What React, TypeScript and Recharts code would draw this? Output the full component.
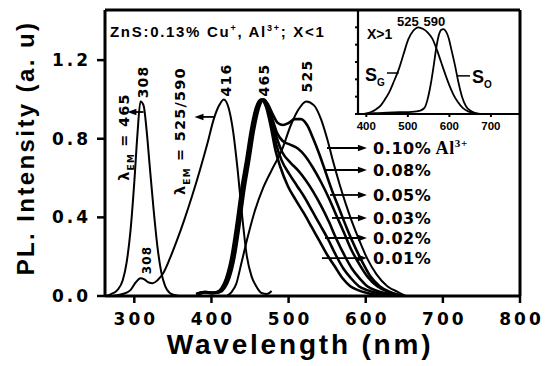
import React from 'react';
import { LineChart, Line, XAxis, YAxis, ReferenceLine, ReferenceDot } from 'recharts';

// ---------- main panel data (wavelength in nm, PL intensity a.u.) ----------
// excitation spectrum, λEM = 465 nm
const excEm465Wl = [262, 270, 278, 285, 290, 295, 300, 304, 308, 312, 316, 320, 325, 330, 335, 340, 346, 352, 360, 370];
const excEm465Int = [0.0, 0.01, 0.03, 0.08, 0.17, 0.33, 0.58, 0.82, 0.99, 0.97, 0.84, 0.66, 0.44, 0.25, 0.12, 0.05, 0.015, 0.005, 0.0, 0.0];
// excitation spectrum, λEM = 525/590 nm
const excEm525Wl = [272, 285, 295, 302, 308, 313, 318, 324, 330, 338, 346, 355, 365, 375, 385, 395, 403, 410, 416, 422, 428, 434, 440, 446, 452, 458, 465, 472, 478];
const excEm525Int = [0.0, 0.01, 0.03, 0.07, 0.09, 0.085, 0.07, 0.065, 0.08, 0.12, 0.19, 0.28, 0.39, 0.51, 0.64, 0.78, 0.9, 0.97, 1.0, 0.96, 0.84, 0.64, 0.4, 0.2, 0.1, 0.05, 0.015, 0.01, 0.025];
// emission spectra for Al3+ concentrations
const em001Wl = [380, 390, 399, 407, 413, 419, 426, 432, 439, 445, 451, 457, 464, 471, 477, 483, 489, 499, 509, 520, 530, 540, 550, 560, 570, 580, 590, 602, 615, 628];
const em001Int = [0.01, 0.02, 0.015, 0.02, 0.04, 0.09, 0.2, 0.35, 0.55, 0.69, 0.84, 0.95, 1.0, 0.96, 0.86, 0.74, 0.66, 0.56, 0.49, 0.42, 0.35, 0.28, 0.21, 0.15, 0.09, 0.05, 0.03, 0.015, 0.005, 0.0];
const em002Wl = [381, 391, 400, 408, 414, 420, 427, 433, 440, 446, 452, 458, 465, 472, 478, 484, 491, 501, 511, 521, 531, 541, 551, 561, 571, 581, 591, 602, 615, 630, 645];
const em002Int = [0.01, 0.02, 0.015, 0.02, 0.04, 0.09, 0.2, 0.35, 0.55, 0.69, 0.84, 0.95, 1.0, 0.96, 0.87, 0.77, 0.69, 0.62, 0.56, 0.5, 0.43, 0.36, 0.29, 0.21, 0.14, 0.09, 0.05, 0.03, 0.015, 0.005, 0.0];
const em003Wl = [382, 392, 401, 409, 415, 421, 428, 434, 441, 447, 453, 459, 466, 473, 479, 485, 492, 502, 512, 522, 532, 542, 552, 562, 572, 582, 592, 602, 615, 630, 645];
const em003Int = [0.01, 0.02, 0.015, 0.02, 0.04, 0.09, 0.2, 0.35, 0.55, 0.69, 0.84, 0.95, 1.0, 0.97, 0.89, 0.8, 0.73, 0.68, 0.64, 0.59, 0.53, 0.46, 0.38, 0.29, 0.21, 0.14, 0.09, 0.05, 0.025, 0.01, 0.0];
const em005Wl = [383, 393, 402, 410, 416, 422, 429, 435, 442, 448, 454, 460, 467, 473, 479, 485, 492, 502, 512, 522, 532, 542, 552, 562, 572, 582, 592, 602, 615, 630, 648];
const em005Int = [0.01, 0.02, 0.015, 0.02, 0.04, 0.09, 0.2, 0.35, 0.55, 0.69, 0.84, 0.95, 1.0, 0.97, 0.9, 0.83, 0.79, 0.77, 0.75, 0.71, 0.65, 0.58, 0.5, 0.41, 0.32, 0.23, 0.16, 0.1, 0.05, 0.02, 0.0];
const em008Wl = [384, 394, 403, 411, 417, 423, 430, 436, 443, 449, 455, 461, 468, 474, 480, 486, 493, 500, 508, 516, 524, 532, 540, 548, 556, 566, 576, 586, 596, 606, 618, 632, 650];
const em008Int = [0.01, 0.02, 0.015, 0.02, 0.04, 0.09, 0.2, 0.35, 0.55, 0.69, 0.84, 0.95, 1.0, 0.97, 0.92, 0.88, 0.87, 0.88, 0.9, 0.9, 0.87, 0.8, 0.72, 0.63, 0.54, 0.44, 0.34, 0.25, 0.17, 0.1, 0.05, 0.02, 0.0];
const em010Wl = [420, 426, 432, 439, 447, 456, 467, 478, 491, 503, 513, 523, 533, 542, 550, 558, 566, 574, 582, 592, 602, 614, 628, 642, 652];
const em010Int = [0.0, 0.02, 0.06, 0.17, 0.3, 0.43, 0.55, 0.64, 0.74, 0.87, 0.95, 0.99, 0.97, 0.9, 0.8, 0.68, 0.57, 0.47, 0.38, 0.28, 0.19, 0.11, 0.05, 0.02, 0.0];

// ---------- inset data (X > 1) ----------
const sgWl = [395, 410, 422, 435, 445, 455, 465, 477, 489, 501, 513, 525, 537, 548, 559, 570, 580, 590, 600, 610, 620, 632, 645, 660, 675];
const sgInt = [0.0, 0.02, 0.05, 0.1, 0.17, 0.25, 0.36, 0.5, 0.68, 0.86, 0.96, 1.0, 0.98, 0.94, 0.87, 0.74, 0.6, 0.46, 0.33, 0.22, 0.14, 0.07, 0.03, 0.01, 0.0];
const soWl = [395, 420, 450, 480, 510, 530, 540, 547, 555, 562, 568, 574, 580, 586, 592, 598, 605, 614, 622, 631, 640, 650, 660, 672];
const soInt = [0.0, 0.01, 0.015, 0.02, 0.025, 0.04, 0.07, 0.16, 0.34, 0.55, 0.75, 0.9, 0.97, 0.98, 0.95, 0.88, 0.74, 0.55, 0.36, 0.19, 0.09, 0.04, 0.015, 0.0];

// ---------- ticks & labels ----------
const xTicks = [300, 400, 500, 600, 700, 800];
const yTicks = [0, 0.4, 0.8, 1.2];
const insetXTicks = [400, 500, 600, 700];
const insetYTicks = [0, 0.2, 0.4, 0.6, 0.8, 1.0, 1.2];
const concLabels = ['0.10%', '0.08%', '0.05%', '0.03%', '0.02%', '0.01%'];
const peakLabels = ['308', '416', '465', '525'];
const insetPeakLabels = ['525', '590'];

const pts = (wl: number[], v: number[]) => wl.map((x, i) => ({ x, y: v[i] }));

const SANS = "'Liberation Sans', Arial, sans-serif";
const DJV = "'DejaVu Sans', sans-serif";
const SERIF = "'Liberation Serif', 'Times New Roman', serif";

const MainXTick = (p: any) => (
  <text x={p.x + 1.5} y={p.y} dy="0.74em" textAnchor="middle"
    style={{ fontFamily: DJV, fontWeight: 'bold', fontSize: 17, letterSpacing: 3, fill: '#000' }}>
    {p.payload.value}
  </text>
);
const MainYTick = (p: any) => (
  <text x={p.x} y={p.y} dy="0.36em" textAnchor="end"
    style={{ fontFamily: DJV, fontWeight: 'bold', fontSize: 17, letterSpacing: 3, fill: '#000' }}>
    {Number(p.payload.value).toFixed(1)}
  </text>
);
const InsetXTick = (p: any) => (
  <text x={p.x} y={p.y} dy="0.74em" textAnchor="middle"
    style={{ fontFamily: SANS, fontWeight: 'bold', fontSize: 11.5, fill: '#000' }}>
    {p.payload.value}
  </text>
);

const XTitle = () => (
  <text x={300} y={354} textAnchor="middle"
    style={{ fontFamily: SANS, fontWeight: 'bold', fontSize: 28, letterSpacing: 2.8, fill: '#000' }}>
    Wavelength (nm)
  </text>
);
const YTitle = () => (
  <text x={34} y={148} textAnchor="middle" transform="rotate(-90 34 148)"
    style={{ fontFamily: SANS, fontWeight: 'bold', fontSize: 24, letterSpacing: 2.4, fill: '#000' }}>
    PL. Intensity (a. u)
  </text>
);

const rotText = (content: React.ReactNode, fs: number) => (p: any) => (
  <text x={p.cx} y={p.cy} dy="0.35em" textAnchor="middle" transform={`rotate(-90 ${p.cx} ${p.cy})`}
    style={{ fontFamily: DJV, fontWeight: 'bold', fontSize: fs, letterSpacing: 1.2, fill: '#000' }}>
    {content}
  </text>
);

const lambdaLabel = (value: string) => (
  <>
    <tspan>λ</tspan>
    <tspan dy={5} fontSize={9}>EM</tspan>
    <tspan dy={-5}>{' = ' + value}</tspan>
  </>
);

const arrowShape = (p: any) => {
  const { x1, y1, x2, y2 } = p;
  const d = x2 >= x1 ? 1 : -1;
  return (
    <g>
      <line x1={x1} y1={y1} x2={x2 - d * 6} y2={y2} stroke="#000" strokeWidth={1.8} />
      <polygon points={`${x2},${y2} ${x2 - d * 9},${y2 - 3.2} ${x2 - d * 9},${y2 + 3.2}`} fill="#000" />
    </g>
  );
};
const plainLine = (w: number) => (p: any) => (
  <line x1={p.x1} y1={p.y1} x2={p.x2} y2={p.y2} stroke="#000" strokeWidth={w} />
);

const concText = (label: string, withIon: boolean) => (p: any) => (
  <text x={p.cx} y={p.cy} dy="0.36em" textAnchor="start"
    style={{ fontFamily: DJV, fontWeight: 'bold', fontSize: 16, letterSpacing: 0.6, fill: '#000' }}>
    {label}
    {withIon ? (
      <>
        <tspan style={{ fontFamily: SERIF, fontSize: 18 }}>{' Al'}</tspan>
        <tspan dy={-7} style={{ fontFamily: SERIF, fontSize: 11 }}>3+</tspan>
      </>
    ) : null}
  </text>
);

const titleText = (p: any) => (
  <text x={p.cx} y={p.cy} textAnchor="start"
    style={{ fontFamily: SANS, fontWeight: 'bold', fontSize: 15, letterSpacing: 1.7, fill: '#000' }}>
    <tspan>ZnS:0.13% Cu</tspan>
    <tspan dy={-6} fontSize={9}>+</tspan>
    <tspan dy={6}>, Al</tspan>
    <tspan dy={-6} fontSize={9}>3+</tspan>
    <tspan dy={6}>{'; X<1'}</tspan>
  </text>
);

const insetText = (content: React.ReactNode, fs: number, anchor: 'start' | 'middle') => (p: any) => (
  <text x={p.cx} y={p.cy} dy="0.36em" textAnchor={anchor}
    style={{ fontFamily: SANS, fontWeight: 'bold', fontSize: fs, fill: '#000' }}>
    {content}
  </text>
);

const seriesMain = [
  { id: 'exc465', d: pts(excEm465Wl, excEm465Int), w: 2 },
  { id: 'exc525', d: pts(excEm525Wl, excEm525Int), w: 2 },
  { id: 'em001', d: pts(em001Wl, em001Int), w: 2.6 },
  { id: 'em002', d: pts(em002Wl, em002Int), w: 2.6 },
  { id: 'em003', d: pts(em003Wl, em003Int), w: 2.6 },
  { id: 'em005', d: pts(em005Wl, em005Int), w: 2.6 },
  { id: 'em008', d: pts(em008Wl, em008Int), w: 2.6 },
  { id: 'em010', d: pts(em010Wl, em010Int), w: 2 },
];

const arrowYs = [0.753, 0.641, 0.514, 0.397, 0.295, 0.193];
const arrowStarts = [549.8, 547.2, 553.7, 556.3, 547.2, 543.3];

export default function App() {
  return (
    <div style={{ position: 'absolute', left: 0, top: 0, width: 546, height: 366, background: '#fff' }}>
      <LineChart width={546} height={366} margin={{ top: 10, right: 26, bottom: 0, left: 0 }}>
        <XAxis type="number" dataKey="x" domain={[262, 800]} ticks={xTicks} allowDataOverflow
          height={70} tickSize={7} tickMargin={9} tick={<MainXTick />}
          axisLine={{ stroke: '#000', strokeWidth: 3 }} tickLine={{ stroke: '#000', strokeWidth: 2.5 }}
          label={<XTitle />} />
        <YAxis type="number" dataKey="y" domain={[0, 1.455]} ticks={yTicks} allowDataOverflow
          width={105} tickSize={8} tickMargin={6} tick={<MainYTick />}
          axisLine={{ stroke: '#000', strokeWidth: 3 }} tickLine={{ stroke: '#000', strokeWidth: 2.5 }}
          label={<YTitle />} />
        <ReferenceLine y={1.455} stroke="#000" strokeWidth={3} />
        <ReferenceLine x={800} stroke="#000" strokeWidth={3} />
        {seriesMain.map((s) => (
          <Line key={s.id} data={s.d} dataKey="y" type="monotone" stroke="#000" strokeWidth={s.w}
            dot={false} activeDot={false} isAnimationActive={false} />
        ))}
        {/* annotations */}
        <ReferenceDot x={268.5} y={1.318} r={0} shape={titleText} />
        <ReferenceDot x={311.3} y={1.089} r={0} shape={rotText(peakLabels[0], 14)} />
        <ReferenceDot x={418.9} y={1.099} r={0} shape={rotText(peakLabels[1], 14)} />
        <ReferenceDot x={468.1} y={1.099} r={0} shape={rotText(peakLabels[2], 14)} />
        <ReferenceDot x={523.9} y={1.119} r={0} shape={rotText(peakLabels[3], 14)} />
        <ReferenceDot x={316.5} y={0.183} r={0} shape={rotText(peakLabels[0], 12)} />
        <ReferenceDot x={286.6} y={0.809} r={0} shape={rotText(lambdaLabel('465'), 14.5)} />
        <ReferenceDot x={359.2} y={0.839} r={0} shape={rotText(lambdaLabel('525/590'), 14.5)} />
        <ReferenceLine segment={[{ x: 312, y: 0.936 }, { x: 291, y: 0.936 }]} shape={arrowShape} />
        <ReferenceLine segment={[{ x: 404, y: 0.911 }, { x: 378, y: 0.911 }]} shape={arrowShape} />
        {concLabels.map((c, i) => (
          <ReferenceLine key={'a' + c} segment={[{ x: arrowStarts[i], y: arrowYs[i] }, { x: 601.6, y: arrowYs[i] }]}
            shape={arrowShape} />
        ))}
        {concLabels.map((c, i) => (
          <ReferenceDot key={'t' + c} x={609.4} y={arrowYs[i]} r={0} shape={concText(c, i === 0)} />
        ))}
      </LineChart>

      <div style={{ position: 'absolute', left: 352, top: 10 }}>
        <LineChart width={168} height={124} margin={{ top: 0, right: 0, bottom: 0, left: 0 }}>
          <XAxis type="number" dataKey="x" domain={[380, 770]} ticks={insetXTicks} allowDataOverflow
            height={20} tickSize={3} tickMargin={4} tick={<InsetXTick />}
            axisLine={{ stroke: '#000', strokeWidth: 2.2 }} tickLine={{ stroke: '#000', strokeWidth: 2 }} />
          <YAxis type="number" dataKey="y" domain={[0, 1.2]} ticks={insetYTicks} allowDataOverflow
            width={6} tickSize={3} tickMargin={0} tickFormatter={() => ''}
            axisLine={{ stroke: '#000', strokeWidth: 2.2 }} tickLine={{ stroke: '#000', strokeWidth: 2 }} />
          <Line data={pts(sgWl, sgInt)} dataKey="y" type="monotone" stroke="#000" strokeWidth={1.8}
            dot={false} activeDot={false} isAnimationActive={false} />
          <Line data={pts(soWl, soInt)} dataKey="y" type="monotone" stroke="#000" strokeWidth={1.8}
            dot={false} activeDot={false} isAnimationActive={false} />
          <ReferenceDot x={500} y={1.073} r={0} shape={insetText(insetPeakLabels[0], 13, 'middle')} />
          <ReferenceDot x={564} y={1.073} r={0} shape={insetText(insetPeakLabels[1], 13, 'middle')} />
          <ReferenceDot x={401.7} y={0.923} r={0} shape={insetText('X>1', 14, 'start')} />
          <ReferenceDot x={396.8} y={0.45} r={0}
            shape={insetText(<><tspan fontSize={18}>S</tspan><tspan dy={5} fontSize={10}>G</tspan></>, 18, 'start')} />
          <ReferenceDot x={654.4} y={0.427} r={0}
            shape={insetText(<><tspan fontSize={18}>S</tspan><tspan dy={5} fontSize={10}>O</tspan></>, 18, 'start')} />
          <ReferenceLine segment={[{ x: 449.8, y: 0.473 }, { x: 478, y: 0.473 }]} shape={plainLine(1.5)} />
          <ReferenceLine segment={[{ x: 618.3, y: 0.44 }, { x: 649.6, y: 0.44 }]} shape={plainLine(1.5)} />
        </LineChart>
      </div>
    </div>
  );
}
